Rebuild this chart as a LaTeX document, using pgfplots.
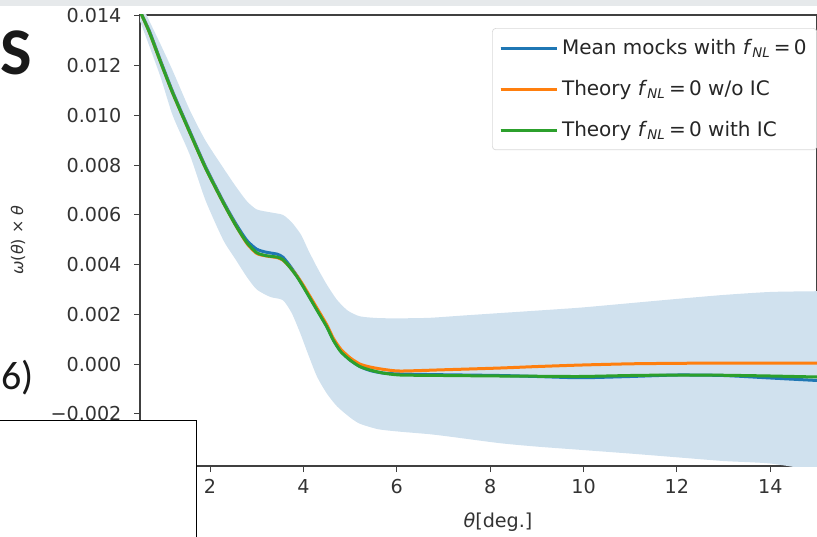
\documentclass[border=0pt]{standalone}
\usepackage{pgfplots}
\pgfplotsset{compat=1.18}
\usepackage{fontspec}
\setmainfont{DejaVu Sans}
\newfontfamily\slidefont{Carlito}
\definecolor{tabblue}{HTML}{1F77B4}
\definecolor{taborange}{HTML}{FF7F0E}
\definecolor{tabgreen}{HTML}{2CA02C}
\definecolor{bandblue}{HTML}{D0E1EE}
\definecolor{slidegray}{HTML}{E6E9EB}

\pgfplotstableread{
x y
0.30 0.01510
0.50 0.01420
0.70 0.01340
0.93 0.01225
1.20 0.01095
1.57 0.00935
1.90 0.00795
2.28 0.00655
2.55 0.00565
2.79 0.00497
3.00 0.00462
3.20 0.00450
3.44 0.00442
3.56 0.00430
3.70 0.00398
3.86 0.00355
4.00 0.00312
4.29 0.00220
4.50 0.00152
4.64 0.00098
4.80 0.00052
5.00 0.00016
5.21 -0.00010
5.43 -0.00026
5.70 -0.00036
6.07 -0.00040
7.00 -0.00043
8.20 -0.00046
9.00 -0.00050
9.93 -0.00055
11.00 -0.00050
12.00 -0.00044
13.00 -0.00046
14.00 -0.00056
15.00 -0.00066
15.30 -0.00068
}\meanmocks

\pgfplotstableread{
x y
0.30 0.01505
0.50 0.01420
0.70 0.01335
0.93 0.01220
1.20 0.01090
1.57 0.00930
1.90 0.00790
2.28 0.00650
2.55 0.00558
2.79 0.00485
3.00 0.00445
3.20 0.00435
3.44 0.00428
3.56 0.00418
3.70 0.00392
3.86 0.00355
4.00 0.00316
4.29 0.00225
4.50 0.00158
4.64 0.00104
4.80 0.00060
5.00 0.00025
5.21 0.00000
5.43 -0.00012
5.70 -0.00021
6.07 -0.00028
7.00 -0.00023
8.20 -0.00016
9.00 -0.00010
9.93 -0.00004
11.00 0.00001
12.00 0.00003
13.00 0.00004
14.00 0.00004
15.00 0.00004
15.30 0.00004
}\theorynoic

\pgfplotstableread{
x y
0.30 0.01505
0.50 0.01420
0.70 0.01335
0.93 0.01220
1.20 0.01090
1.57 0.00930
1.90 0.00790
2.28 0.00650
2.55 0.00558
2.79 0.00488
3.00 0.00448
3.20 0.00436
3.44 0.00430
3.56 0.00420
3.70 0.00392
3.86 0.00352
4.00 0.00310
4.29 0.00217
4.50 0.00150
4.64 0.00096
4.80 0.00050
5.00 0.00016
5.21 -0.00010
5.43 -0.00024
5.70 -0.00036
6.07 -0.00044
7.00 -0.00046
8.20 -0.00048
9.00 -0.00049
9.93 -0.00050
11.00 -0.00046
12.00 -0.00044
13.00 -0.00045
14.00 -0.00048
15.00 -0.00052
15.30 -0.00053
}\theoryic

\pgfplotstableread{
x y
0.30 0.01560
0.50 0.01460
0.93 0.01290
1.20 0.01180
1.57 0.01020
1.90 0.00900
2.28 0.00790
2.55 0.00715
2.79 0.00655
3.00 0.00622
3.30 0.00610
3.56 0.00600
3.75 0.00570
3.95 0.00520
4.10 0.00460
4.29 0.00390
4.50 0.00320
4.72 0.00258
4.95 0.00215
5.21 0.00192
5.60 0.00185
6.07 0.00184
6.70 0.00186
7.40 0.00195
8.20 0.00205
9.00 0.00215
9.93 0.00227
11.00 0.00245
12.00 0.00262
13.00 0.00278
14.00 0.00290
15.00 0.00293
15.50 0.00295
15.50 -0.00450
15.00 -0.00430
14.00 -0.00400
13.00 -0.00390
12.00 -0.00375
11.00 -0.00360
9.93 -0.00345
9.00 -0.00332
8.20 -0.00318
7.14 -0.00292
6.70 -0.00282
6.07 -0.00272
5.60 -0.00262
5.21 -0.00240
5.00 -0.00215
4.72 -0.00170
4.50 -0.00118
4.29 -0.00050
4.10 0.00040
3.93 0.00125
3.75 0.00205
3.56 0.00257
3.29 0.00270
3.00 0.00300
2.79 0.00350
2.55 0.00420
2.28 0.00500
1.90 0.00660
1.57 0.00840
1.20 0.01000
0.93 0.01160
0.50 0.01380
0.30 0.01470
}\band

\begin{document}
\begin{tikzpicture}
\path[use as bounding box] (0,0) rectangle (490.2pt,321.6pt);
\fill[slidegray] (-1pt,318pt) rectangle (491pt,322.6pt);
\begin{axis}[
  at={(84pt,42pt)}, anchor=south west,
  width=406.2pt, height=270.6pt, scale only axis,
  xmin=0.5, xmax=15.0, ymin=-0.0041, ymax=0.01404,
  xtick={2,4,...,14},
  ytick={-0.002,0,0.002,0.004,0.006,0.008,0.010,0.012,0.014},
  yticklabels={−0.002,0.000,0.002,0.004,0.006,0.008,0.010,0.012,0.014},
  scaled ticks=false,
  /pgf/number format/assume math mode=true,
  tick pos=left, tick align=outside,
  major tick length=3.6pt,
  tick style={black!75, line width=0.6pt},
  axis line style={black!75, line width=0.7pt},
  ticklabel style={font=\fontsize{11.5}{13}\selectfont, text=black!80},
  yticklabel style={xshift=-4pt},
  xticklabel style={yshift=-1pt},
  clip=true,
  legend style={at={(0.52,0.971)}, anchor=north west,
    draw=black!15, rounded corners=2pt, fill=white,
    font=\fontsize{12}{13.5}\selectfont, text=black!85,
    inner xsep=4pt, inner ysep=4.5pt, row sep=10pt,
    cells={anchor=west}},
  legend image code/.code={\path (0pt,0pt) -- (34pt,0pt);\draw[#1] (0pt,0pt) -- (27pt,0pt);},
]
\addplot[fill=bandblue, draw=none, forget plot, smooth, tension=0.4] table {\band};
\addplot[tabblue, line width=1.8pt, smooth, tension=0.4] table {\meanmocks};
\addlegendentry{Mean mocks with \textit{f}\textsubscript{\textit{NL}}\,=\,0}
\addplot[taborange, line width=1.8pt, smooth, tension=0.4] table {\theorynoic};
\addlegendentry{Theory \textit{f}\textsubscript{\textit{NL}}\,=\,0 w/o IC}
\addplot[tabgreen, line width=1.8pt, smooth, tension=0.4] table {\theoryic};
\addlegendentry{Theory \textit{f}\textsubscript{\textit{NL}}\,=\,0 with IC}
\end{axis}
\node[rotate=90, font=\fontsize{9.6}{11}\selectfont, text=black!80] at (10.8pt,177.6pt) {\textit{ω}(\textit{θ}) × \textit{θ}};
\node[font=\fontsize{11.5}{13}\selectfont, text=black!80] at (298.8pt,8.4pt) {\textit{θ}[deg.]};
\node[anchor=base west, inner sep=0pt, font=\slidefont\bfseries\fontsize{40}{44}\selectfont, text=black!90] at (0pt,276.6pt) {S};
\node[anchor=base west, inner sep=0pt, font=\slidefont\fontsize{24}{28}\selectfont, text=black!90] at (0.5pt,88pt) {6)};
\fill[white] (-1pt,-1pt) rectangle (117.6pt,69.2pt);
\draw[black, line width=0.6pt] (-1pt,69.2pt) -- (117.6pt,69.2pt) -- (117.6pt,-1pt);
\end{tikzpicture}
\end{document}
